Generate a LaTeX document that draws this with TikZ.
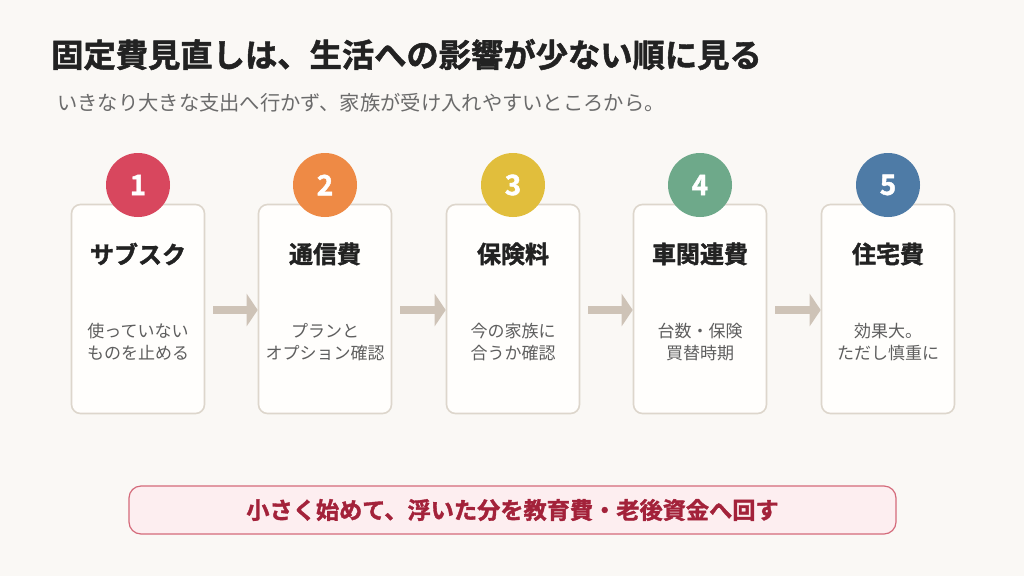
\documentclass[tikz,border=0pt]{standalone}
\usepackage{fontspec}
\setmainfont{Noto Sans CJK JP}
\newfontfamily\jpb{Noto Sans CJK JP Bold}
\newfontfamily\jpbb[FakeBold=1.6]{Noto Sans CJK JP Bold}
\usetikzlibrary{arrows.meta}
\definecolor{bg}{HTML}{FAF8F5}
\definecolor{cardfill}{HTML}{FFFEFC}
\definecolor{cardline}{HTML}{DDD6CC}
\definecolor{arrowc}{HTML}{CEC3B7}
\definecolor{titlec}{HTML}{222222}
\definecolor{subc}{HTML}{6B6B6B}
\definecolor{descc}{HTML}{5E5E5E}
\definecolor{cA}{HTML}{D8475E}
\definecolor{cB}{HTML}{EE8A45}
\definecolor{cC}{HTML}{E1BE3C}
\definecolor{cD}{HTML}{6EA98A}
\definecolor{cE}{HTML}{4E7BA6}
\definecolor{notefill}{HTML}{FDEEF0}
\definecolor{noteline}{HTML}{D46A7A}
\definecolor{notetext}{HTML}{A3223A}
\tikzset{
  card/.style={draw=cardline, line width=1.6pt, fill=cardfill, rounded corners=9pt, minimum width=133pt, minimum height=209pt, inner sep=0pt},
  badge/.style={circle, minimum size=64pt, inner sep=0pt, text=white, font=\jpbb\fontsize{28}{28}\selectfont},
  ctitle/.style={font=\jpbb\fontsize{24}{24}\selectfont, text=titlec},
  cdesc/.style={font=\fontsize{17}{22}\selectfont, text=descc, align=center},
  flow/.style={draw=arrowc, line width=8pt, -{Triangle[length=11pt,width=32pt]}, shorten >=0pt}
}
\begin{document}
\begin{tikzpicture}[x=1pt,y=-1pt]
\fill[bg] (0,0) rectangle (1024,576);
\useasboundingbox (0,0) rectangle (1024,576);
\node[anchor=base west, font=\jpbb\fontsize{32.3}{33}\selectfont, text=titlec, inner sep=0pt] (title) at (51,67) {固定費見直しは、生活への影響が少ない順に見る};
\node[anchor=base west, font=\fontsize{20.3}{21}\selectfont, text=subc, inner sep=0pt] (sub) at (57,110) {いきなり大きな支出へ行かず、家族が受け入れやすいところから。};
\foreach \i/\x/\c/\t/\d in {1/138/cA/サブスク/{使っていない\\ものを止める},
                          2/325/cB/通信費/{プランと\\オプション確認},
                          3/513/cC/保険料/{今の家族に\\合うか確認},
                          4/700/cD/車関連費/{台数・保険\\買替時期},
                          5/888/cE/住宅費/{効果大。\\ただし慎重に}} {
  \node[card] (card\i) at (\x,309) {};
  \node[badge, fill=\c] (badge\i) at (\x,185) {\i};
  \node[ctitle] (ct\i) at (\x,254) {\t};
  \node[cdesc] (cd\i) at (\x,342) {\d};
}
\foreach \a/\b in {1/2,2/3,3/4,4/5} {
  \draw[flow] ([xshift=8pt]card\a.east |- 0,310) -- (card\b.west |- 0,310);
}
\node[draw=noteline, line width=1.2pt, fill=notefill, rounded corners=12pt, minimum width=767pt, minimum height=48pt, font=\jpbb\fontsize{23.2}{23}\selectfont, text=notetext] (note) at (512.5,510) {小さく始めて、浮いた分を教育費・老後資金へ回す};
\end{tikzpicture}
\end{document}
